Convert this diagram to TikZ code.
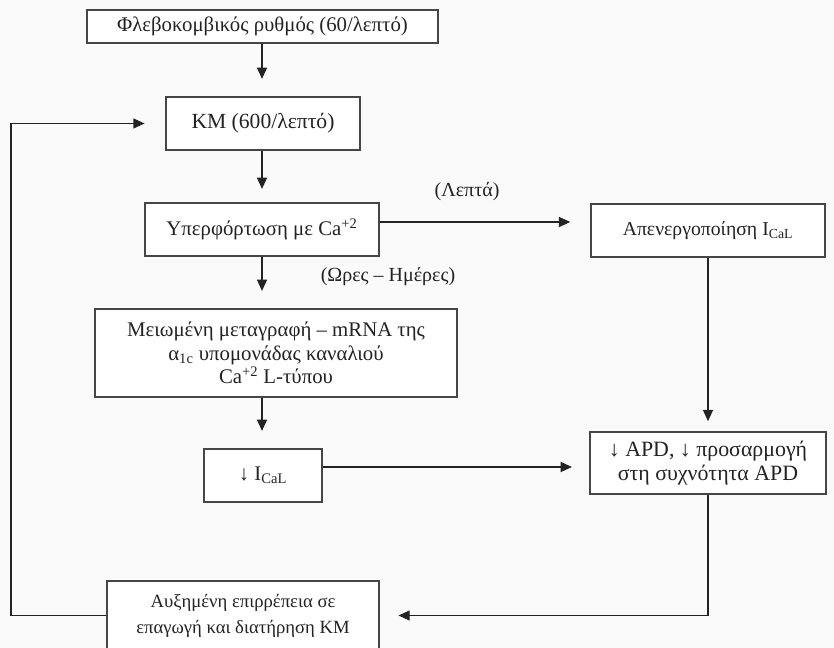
\documentclass[tikz,border=0pt]{standalone}
\usepackage{fontspec}
\setmainfont{Liberation Serif}
\usetikzlibrary{arrows.meta}

\definecolor{ink}{RGB}{35,35,35}
\definecolor{edge}{RGB}{70,70,70}
\definecolor{paper}{RGB}{250,250,250}

\tikzset{
  box/.style={draw=edge, line width=1.1pt, fill=white, inner sep=0pt,
    align=center, text=ink, font=\fontsize{15.6}{17.5}\selectfont},
  arr/.style={draw=ink, line width=1.1pt,
    -{Triangle[length=8.5pt,width=7.5pt]}, shorten >=13pt},
  lbl/.style={text=ink, inner sep=0pt, font=\fontsize{15}{17}\selectfont}
}

\begin{document}
\begin{tikzpicture}[x=0.75pt, y=-0.75pt]
  % page
  \fill[paper] (0,0) rectangle (834,648);
  \useasboundingbox (0,0) rectangle (834,648);
  \clip (0,0) rectangle (834,648);

  % guide lines for the two columns and the horizontal links
  \coordinate (cx) at (262,0);
  \coordinate (rx) at (708,0);
  \coordinate (lx) at (11,0);
  \coordinate (ya) at (0,222);
  \coordinate (yb) at (0,467);

  % boxes
  \node[box, minimum width=263.25pt, minimum height=24.75pt] (b1) at (262.5,26.5)
    {Φλεβοκομβικός ρυθμός (60/λεπτό)};
  \node[box, minimum width=145.5pt, minimum height=39.75pt,
        font=\fontsize{16.2}{17.5}\selectfont] (km) at (263,123.5)
    {ΚΜ (600/λεπτό)};
  \node[box, minimum width=175.5pt, minimum height=39.75pt] (hyp) at (262,229.5)
    {Υπερφόρτωση με Ca\textsuperscript{+2}};
  \node[box, minimum width=175.5pt, minimum height=39.75pt,
        font=\fontsize{14.8}{17.5}\selectfont] (apen) at (708,230.5)
    {Απενεργοποίηση I\textsubscript{CaL}};
  \node[box, minimum width=271.5pt, minimum height=66pt] (mei) at (276,353)
    {Μειωμένη μεταγραφή – mRNA της\\
     α\textsubscript{1c} υπομονάδας καναλιού\\
     Ca\textsuperscript{+2} L-τύπου};
  \node[box, minimum width=88.5pt, minimum height=39.75pt] (ical) at (263,475.5)
    {↓ I\textsubscript{CaL}};
  \node[box, minimum width=177pt, minimum height=46.5pt,
        font=\fontsize{16.4}{17.5}\selectfont] (apd) at (708,463)
    {↓ APD, ↓ προσαρμογή\\ στη συχνότητα APD};
  \node[box, minimum width=204pt, minimum height=51.75pt,
        font=\fontsize{14}{19.5}\selectfont] (bot) at (243,615.5)
    {Αυξημένη επιρρέπεια σε\\ επαγωγή και διατήρηση ΚΜ};

  % time-scale labels
  \node[lbl] (lepta) at (467,192) {(Λεπτά)};
  \node[lbl] (ores) at (388,277) {(Ωρες – Ημέρες)};

  % main chain
  \draw[arr] (b1.south -| cx) -- (km.north -| cx);
  \draw[arr, shorten >=10pt] (km.south -| cx) -- (hyp.north -| cx);
  \draw[arr] (hyp.south -| cx) -- (mei.north -| cx);
  \draw[arr] (mei.south -| cx) -- (ical.north -| cx);

  % fast and slow branches
  \draw[arr, shorten >=15pt] (hyp.east |- ya) -- (apen.west |- ya);
  \draw[arr, shorten >=7.5pt] (apen.south -| rx) -- (apd.north -| rx);
  \draw[arr] (ical.east |- yb) -- (apd.west |- yb);

  % outcome and feedback loop
  \draw[arr, shorten >=14pt] (apd.south -| rx) -- (rx |- bot.east) -- (bot.east);
  \draw[arr, shorten >=15.5pt] (bot.west) -- (lx |- bot.west) -- (lx |- km.west) -- (km.west);
\end{tikzpicture}
\end{document}
